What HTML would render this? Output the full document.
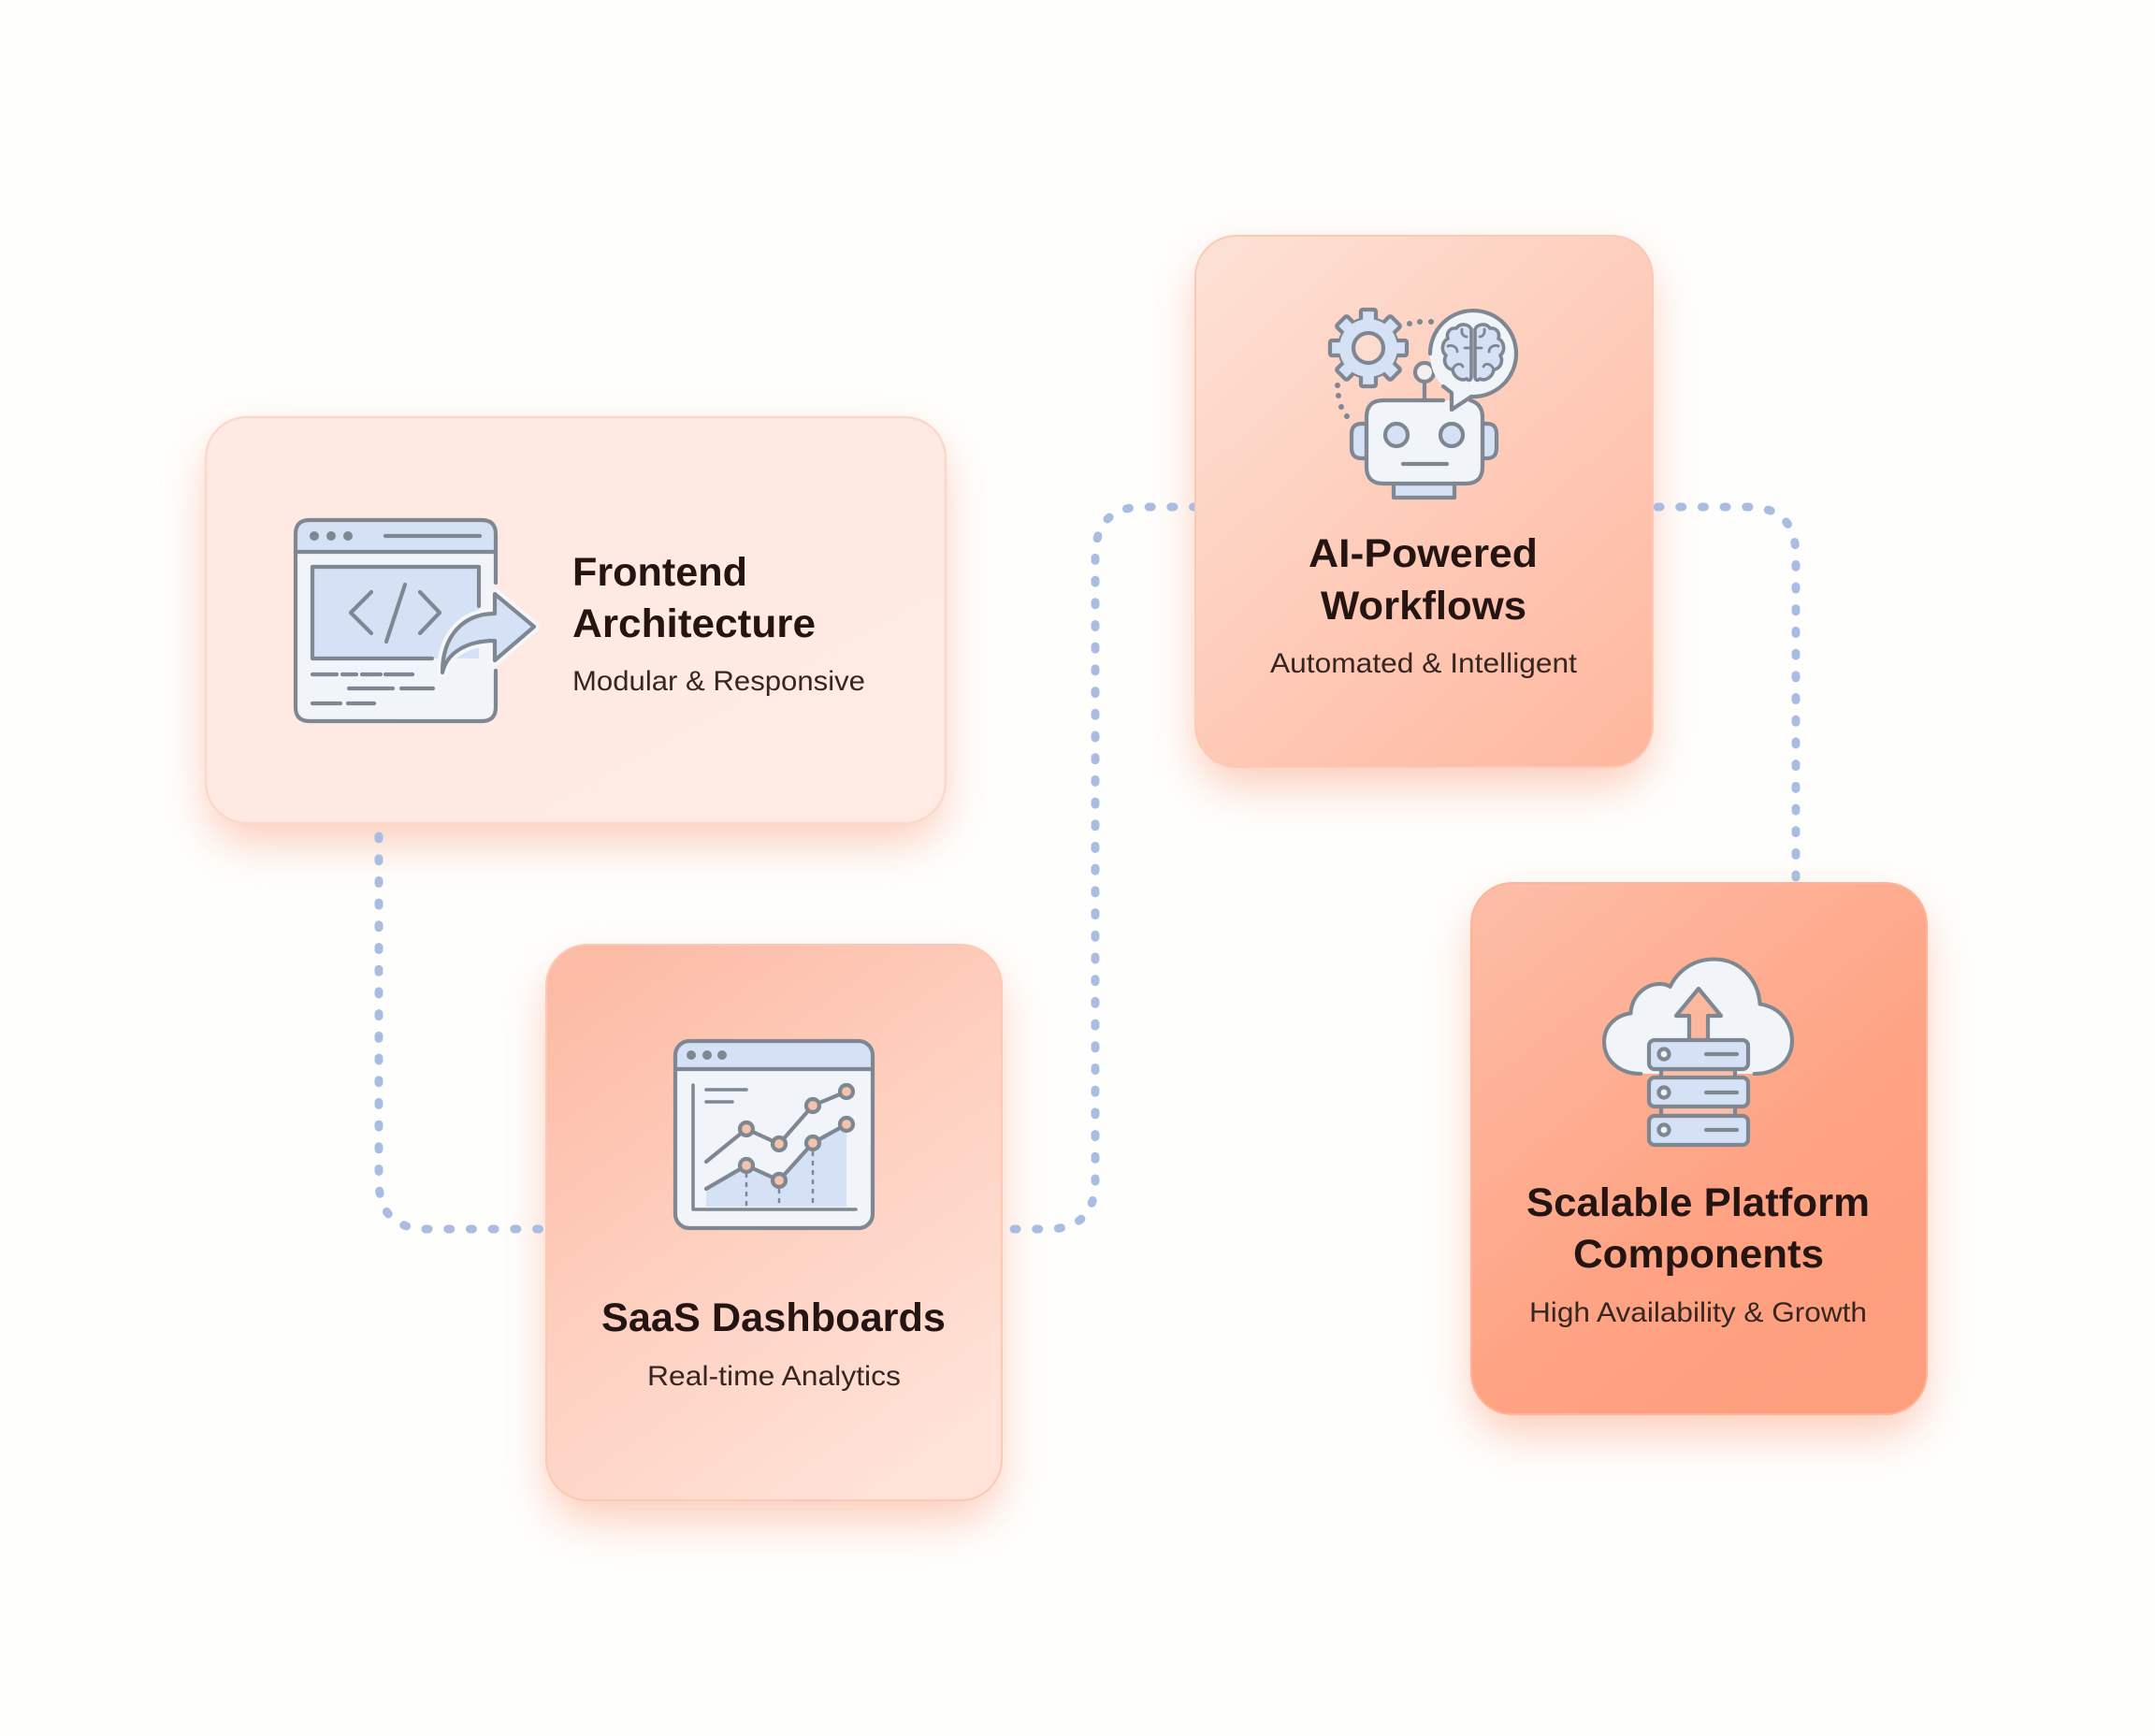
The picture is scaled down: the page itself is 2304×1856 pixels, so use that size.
<!DOCTYPE html>
<html><head><meta charset="utf-8"><style>
html,body{margin:0;padding:0;background:#fefefc;width:2304px;height:1856px;overflow:hidden}
svg{display:block}
text{font-family:"Liberation Sans",sans-serif;fill:#241512}
.t{font-size:43px;font-weight:700}
.s{font-size:30px;fill:#352622}
.i{stroke:#7e8792;stroke-width:4.2;stroke-linecap:round;stroke-linejoin:round;fill:none}
.c{fill:none;stroke:#a9bde3;stroke-width:9;stroke-linecap:round;stroke-dasharray:3 20.7}
</style></head><body>
<svg width="2304" height="1856" viewBox="0 0 2304 1856" xmlns="http://www.w3.org/2000/svg">
<defs>
<linearGradient id="g1" x1="0" y1="0" x2="1" y2="1"><stop offset="0" stop-color="#feeae2"/><stop offset="1" stop-color="#ffebe4"/></linearGradient>
<linearGradient id="g2" x1=".15" y1="0" x2=".75" y2="1"><stop offset="0" stop-color="#fcbba5"/><stop offset=".5" stop-color="#fed0c0"/><stop offset="1" stop-color="#ffe3d9"/></linearGradient>
<linearGradient id="g3" x1=".1" y1="0" x2=".9" y2="1"><stop offset="0" stop-color="#fde0d4"/><stop offset="1" stop-color="#feb89f"/></linearGradient>
<linearGradient id="g4" x1=".1" y1="0" x2=".8" y2="1"><stop offset="0" stop-color="#fdbca5"/><stop offset=".6" stop-color="#fea384"/><stop offset="1" stop-color="#fd9e7c"/></linearGradient>
<filter id="sh" x="-30%" y="-30%" width="160%" height="160%"><feGaussianBlur stdDeviation="24"/></filter>
<g id="tooth"><rect x="-8" y="-41" width="16" height="14" rx="2"/></g>
</defs>

<!-- shadows -->
<g fill="#fb9a78" opacity=".5" filter="url(#sh)">
<rect x="222" y="470" width="786" height="430" rx="45"/>
<rect x="586" y="1035" width="482" height="590" rx="45"/>
<rect x="1280" y="275" width="484" height="565" rx="45"/>
<rect x="1575" y="968" width="482" height="565" rx="45"/>
</g>

<!-- connectors -->
<path class="c" d="M405 894 V1262 Q405 1314 457 1314 H596"/>
<path class="c" d="M1084 1314 H1120 Q1171 1314 1171 1262 V595 Q1171 542 1222 542 H1292"/>
<path class="c" d="M1772 542 H1868 Q1920 542 1920 594 V962"/>

<!-- cards -->
<rect x="220" y="446" width="791" height="434" rx="44" fill="url(#g1)" stroke="#fdd8ca" stroke-width="2.5"/>
<rect x="584" y="1010" width="487" height="594" rx="44" fill="url(#g2)" stroke="#fdc8b5" stroke-width="2"/>
<rect x="1278" y="252" width="489" height="568" rx="44" fill="url(#g3)" stroke="#fcc9b6" stroke-width="2"/>
<rect x="1573" y="944" width="487" height="568" rx="44" fill="url(#g4)" stroke="#fdb49b" stroke-width="2"/>

<!-- Icon 1 -->
<path d="M316 590 V571 Q316 556 331 556 H515 Q530 556 530 571 V590 Z" fill="#d5e1f5"/>
<path d="M316 590 H530 V756 Q530 771 515 771 H331 Q316 771 316 756 Z" fill="#f1f4f8"/>
<rect x="334" y="606" width="178" height="98" fill="#d5e1f5"/>
<path class="i" d="M530 623 V571 Q530 556 515 556 H331 Q316 556 316 571 V756 Q316 771 331 771 H515 Q530 771 530 756 V717"/>
<path class="i" d="M316 590 H530"/>
<path class="i" d="M512 648 V606 H334 V704 H462"/>
<g fill="#7e8792"><circle cx="336" cy="573" r="5"/><circle cx="354" cy="573" r="5"/><circle cx="372" cy="573" r="5"/></g>
<path class="i" d="M412 573 H513"/>
<path class="i" d="M397 633 L375 655 L397 677 M433 625 L413 686 M449 633 L470 655 L449 677"/>
<path d="M529 635 L571 670 L529 706 V685 C500 685 478 697 473 719 C473 680 495 656 529 656 Z" fill="#d5e1f5" stroke="#f6f7f9" stroke-width="12" stroke-linejoin="round"/>
<path d="M529 635 L571 670 L529 706 V685 C500 685 478 697 473 719 C473 680 495 656 529 656 Z" class="i" style="fill:#d5e1f5"/>
<path class="i" d="M334 721 H360 M366 721 H381 M387 721 H407 M412 721 H441 M373 736 H420 M429 736 H463 M334 752 H364 M372 752 H400"/>

<text class="t" x="612" y="626" textLength="187" lengthAdjust="spacingAndGlyphs">Frontend</text>
<text class="t" x="612" y="681" textLength="260" lengthAdjust="spacingAndGlyphs">Architecture</text>
<text class="s" x="612" y="738" textLength="313" lengthAdjust="spacingAndGlyphs">Modular &amp; Responsive</text>

<!-- Icon 2: gear -->
<g transform="translate(1463 372)">
 <g class="i" style="fill:#d5e1f5">
  <circle r="31"/>
  <use href="#tooth"/><use href="#tooth" transform="rotate(45)"/><use href="#tooth" transform="rotate(90)"/><use href="#tooth" transform="rotate(135)"/><use href="#tooth" transform="rotate(180)"/><use href="#tooth" transform="rotate(225)"/><use href="#tooth" transform="rotate(270)"/><use href="#tooth" transform="rotate(315)"/>
 </g>
 <circle r="31" fill="#d5e1f5"/>
 <circle r="16" class="i" style="fill:#fbdccf"/>
</g>
<g fill="#7e8792"><circle cx="1507" cy="346" r="3"/><circle cx="1518" cy="344" r="3"/><circle cx="1530" cy="344" r="3"/><circle cx="1430" cy="412" r="3"/><circle cx="1431" cy="423" r="3"/><circle cx="1434" cy="435" r="3"/><circle cx="1440" cy="445" r="3"/></g>
<!-- ears, neck, head -->
<path class="i" d="M1461 453 H1456 Q1445 453 1445 464 V479 Q1445 490 1456 490 H1461 Z" style="fill:#d5e1f5"/>
<path class="i" d="M1585 453 H1590 Q1600 453 1600 464 V479 Q1600 490 1590 490 H1585 Z" style="fill:#d5e1f5"/>
<rect x="1490" y="517" width="65" height="15" class="i" style="fill:#d5e1f5"/>
<rect x="1461" y="428" width="124" height="89" rx="18" fill="#f1f4f8"/>
<path class="i" d="M1543 428 H1479 Q1461 428 1461 446 V499 Q1461 517 1479 517 H1567 Q1585 517 1585 499 V446 Q1585 432 1572 428"/>
<circle cx="1493" cy="465" r="12" class="i" style="fill:#d5e1f5"/>
<circle cx="1552" cy="465" r="12" class="i" style="fill:#d5e1f5"/>
<path class="i" d="M1500 496 H1547"/>
<path class="i" d="M1523 428 V408"/>
<circle cx="1523" cy="398" r="10" class="i" style="fill:#f5f0ed"/>
<!-- bubble -->
<path d="M1529 378 A46 46 0 1 1 1573 424 L1552 438 V420 L1543 413 A46 46 0 0 1 1529 378 Z" fill="#f1f4f8"/>
<path class="i" d="M1529 378 A46 46 0 1 1 1573 424 L1552 438 V420 L1543 413"/>
<!-- brain -->
<path class="i" style="stroke-width:3.6;fill:#d5e1f5" d="M1573 352 C1570 346 1561 345 1557 351 C1550 350 1546 356 1548 362 C1542 365 1540 375 1546 380 C1542 387 1547 395 1553 395 C1554 403 1562 408 1568 405 C1571 408 1573 406 1573 402 Z"/>
<path class="i" style="stroke-width:2.8" d="M1563 352 C1562 358 1566 360 1568 360 M1548 370 C1554 368 1558 372 1558 376 M1553 395 C1556 388 1562 388 1564 392 M1573 372 H1566"/>
<g transform="translate(3150 0) scale(-1 1)">
<path class="i" style="stroke-width:3.6;fill:#d5e1f5" d="M1573 352 C1570 346 1561 345 1557 351 C1550 350 1546 356 1548 362 C1542 365 1540 375 1546 380 C1542 387 1547 395 1553 395 C1554 403 1562 408 1568 405 C1571 408 1573 406 1573 402 Z"/>
<path class="i" style="stroke-width:2.8" d="M1563 352 C1562 358 1566 360 1568 360 M1548 370 C1554 368 1558 372 1558 376 M1553 395 C1556 388 1562 388 1564 392 M1573 372 H1566"/>
</g>

<text class="t" x="1399" y="606" textLength="245" lengthAdjust="spacingAndGlyphs">AI-Powered</text>
<text class="t" x="1412" y="662" textLength="220" lengthAdjust="spacingAndGlyphs">Workflows</text>
<text class="s" x="1358" y="719" textLength="328" lengthAdjust="spacingAndGlyphs">Automated &amp; Intelligent</text>

<!-- Icon 3 -->
<path d="M722 1143 V1128 Q722 1113 737 1113 H918 Q933 1113 933 1128 V1143 Z" fill="#d5e1f5"/>
<path d="M722 1143 H933 V1298 Q933 1313 918 1313 H737 Q722 1313 722 1298 Z" fill="#f1f4f8"/>
<path d="M755 1271 L798 1246 L833 1262 L869 1222 L905 1202 V1290 H755 Z" fill="#d5e1f5"/>
<rect x="722" y="1113" width="211" height="200" rx="15" class="i"/>
<path class="i" d="M722 1143 H933"/>
<g fill="#7e8792"><circle cx="739" cy="1128" r="5"/><circle cx="756" cy="1128" r="5"/><circle cx="772" cy="1128" r="5"/></g>
<path class="i" style="stroke-width:3.5" d="M741 1160 V1293 H915 M755 1165 H798 M755 1178 H783"/>
<path class="i" style="stroke-width:2.5;stroke-dasharray:3 7" d="M798 1255 V1290 M833 1272 V1290 M869 1232 V1290"/>
<path class="i" d="M755 1242 L798 1207 L833 1223 L869 1182 L905 1167"/>
<path class="i" d="M755 1271 L798 1246 L833 1262 L869 1222 L905 1202"/>
<g class="i" style="fill:#f5c2ac"><circle cx="798" cy="1207" r="7"/><circle cx="833" cy="1223" r="7"/><circle cx="869" cy="1182" r="7"/><circle cx="905" cy="1167" r="7"/><circle cx="798" cy="1246" r="7"/><circle cx="833" cy="1262" r="7"/><circle cx="869" cy="1222" r="7"/><circle cx="905" cy="1202" r="7"/></g>

<text class="t" x="643" y="1423" textLength="368" lengthAdjust="spacingAndGlyphs">SaaS Dashboards</text>
<text class="s" x="692" y="1481" textLength="271" lengthAdjust="spacingAndGlyphs">Real-time Analytics</text>

<!-- Icon 4 -->
<g transform="translate(1816 1148) scale(.98) translate(-1816 -1148)">
<path d="M1753 1148 C1728 1148 1713 1132 1713 1113 C1713 1096 1726 1084 1742 1082 C1743 1063 1758 1050 1774 1050 C1778 1050 1782 1051 1785 1053 C1794 1034 1812 1023 1833 1023 C1860 1023 1881 1044 1883 1072 C1904 1075 1918 1092 1918 1112 C1918 1133 1902 1148 1877 1148 Z" fill="#f1f4f8"/>
<path class="i" d="M1753 1148 C1728 1148 1713 1132 1713 1113 C1713 1096 1726 1084 1742 1082 C1743 1063 1758 1050 1774 1050 C1778 1050 1782 1051 1785 1053 C1794 1034 1812 1023 1833 1023 C1860 1023 1881 1044 1883 1072 C1904 1075 1918 1092 1918 1112 C1918 1133 1902 1148 1877 1148"/>
</g>
<path class="i" style="fill:#fcb79f" d="M1816 1057 L1792 1086 H1806 V1112 H1826 V1086 H1840 Z"/>
<path d="M1776 1143 H1855 V1193 H1776 Z" class="i" style="fill:#fbbfa9"/>
<g class="i" style="fill:#d5e1f5">
<rect x="1763" y="1112" width="106" height="31" rx="6"/>
<rect x="1763" y="1152" width="106" height="31" rx="6"/>
<rect x="1763" y="1193" width="106" height="31" rx="6"/>
<circle cx="1779" cy="1127" r="5.5" style="fill:#eef1f6"/>
<circle cx="1779" cy="1168" r="5.5" style="fill:#eef1f6"/>
<circle cx="1779" cy="1208" r="5.5" style="fill:#eef1f6"/>
</g>
<path class="i" d="M1824 1127 H1857 M1824 1168 H1857 M1824 1208 H1857"/>

<text class="t" x="1632" y="1300" textLength="367" lengthAdjust="spacingAndGlyphs">Scalable Platform</text>
<text class="t" x="1682" y="1355" textLength="268" lengthAdjust="spacingAndGlyphs">Components</text>
<text class="s" x="1635" y="1413" textLength="361" lengthAdjust="spacingAndGlyphs">High Availability &amp; Growth</text>
</svg>
</body></html>
